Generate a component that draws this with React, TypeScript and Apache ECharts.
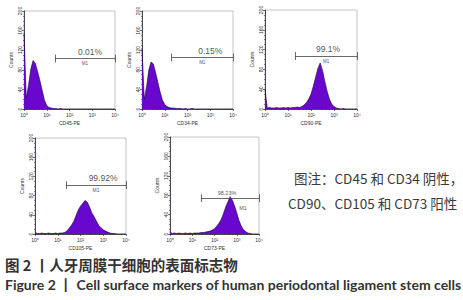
import React, { useEffect, useRef } from "react";
import * as echarts from "echarts";

// Fluorescence channel positions (log-spaced, 0.1 decade apart)
const CHANNELS = [
  1, 1.26, 1.58, 2, 2.51, 3.16, 3.98, 5.01, 6.31, 7.94,
  10, 12.6, 15.8, 20, 25.1, 31.6, 39.8, 50.1, 63.1, 79.4,
  100, 126, 158, 200, 251, 316, 398, 501, 631, 794,
  1000, 1260, 1580, 2000, 2510, 3160, 3980, 5010, 6310, 7940, 10000,
];

// Counts per channel for each marker
const CD45 = [
  155, 22, 48, 82, 99, 93, 76, 58, 38, 18,
  7, 3, 2, 1, 1, 0, 1, 0, 0, 0,
  0, 0, 0, 0, 0, 0, 0, 0, 0, 0,
  0, 0, 0, 0, 0, 0, 0, 0, 0, 0, 0,
];
const CD34 = [
  124, 20, 45, 80, 96, 92, 74, 54, 34, 18,
  9, 5, 3, 2, 2, 1, 1, 1, 0, 1,
  0, 0, 1, 0, 0, 0, 0, 0, 0, 0,
  0, 0, 0, 0, 0, 0, 0, 0, 0, 0, 0,
];
const CD90 = [
  40, 2, 3, 2, 2, 3, 2, 2, 3, 2,
  3, 2, 3, 3, 4, 3, 5, 8, 13, 20,
  30, 46, 64, 82, 93, 78, 56, 36, 20, 10,
  5, 2, 1, 0, 1, 0, 0, 0, 0, 0, 0,
];
const CD105 = [
  3, 1, 1, 2, 1, 1, 2, 1, 1, 2,
  1, 2, 2, 3, 6, 12, 18, 26, 38, 50,
  58, 64, 70, 66, 56, 44, 36, 27, 18, 13,
  9, 6, 4, 2, 1, 1, 0, 0, 0, 0, 0,
];
const CD73 = [
  4, 1, 2, 1, 2, 1, 1, 2, 1, 2,
  1, 2, 2, 2, 3, 3, 4, 5, 6, 8,
  11, 16, 22, 30, 42, 55, 66, 77, 70, 58,
  44, 28, 17, 9, 5, 2, 1, 0, 0, 0, 0,
];

const AXIS_NAMES = ["CD45-PE", "CD34-PE", "CD90-PE", "CD105-PE", "CD73-PE"];
const SERIES_DATA = [CD45, CD34, CD90, CD105, CD73];
const GATE_PERCENTS = ["0.01%", "0.15%", "99.1%", "99.92%", "98.23%"];
const GATE_NAME = "M1";
const GATE_START = [23, 19.5, 20, 23, 25];
const GATE_END = 10000;
const GATE_LEVEL = [103, 105, 107, 102, 74];
const GATE_CAP = 8;
// fluorescence value where each gate's captions sit
const PCT_AT = [800, 1000, 550, 980, 365];
const M1_AT = [480, 445, 450, 480, 1900];

const X_TICK_LABELS = ["10⁰", "10¹", "10²", "10³", "10⁴"];
const Y_NAME = "Counts";

const NOTE_LINES = ["图注：CD45 和 CD34 阴性，", "CD90、CD105 和 CD73 阳性"];
const TITLE_CN = "图 2 丨人牙周膜干细胞的表面标志物";
const TITLE_EN = "Figure 2 丨 Cell surface markers of human periodontal ligament stem cells";

// layout
const GRIDS = [
  { left: 24, top: 11, width: 91, height: 98 },
  { left: 142, top: 11, width: 91, height: 98 },
  { left: 265, top: 10, width: 92, height: 99 },
  { left: 35, top: 138, width: 91, height: 96 },
  { left: 170, top: 137, width: 89, height: 97 },
];
const PCT_FONT = [8.5, 8.5, 8.5, 8.5, 5.5];
const M1_FONT = [4.5, 4.5, 4.5, 5, 5.5];
const M1_GAP = [2, 2, 2, 2, 6];

const FONT = "Liberation Sans, Arial, sans-serif";
const CJK = "Noto Sans CJK SC";
const PURPLE = "#6808cf";

function buildOption(): any {
  const histSeries = SERIES_DATA.map((counts, i) => {
    const g0 = GATE_START[i];
    const lvl = GATE_LEVEL[i];
    return {
      type: "line",
      xAxisIndex: i,
      yAxisIndex: i,
      data: counts.map((c, k) => [CHANNELS[k], c]),
      showSymbol: false,
      symbol: "none",
      lineStyle: { color: "#1a0033", width: 0.6 },
      areaStyle: { color: PURPLE, opacity: 1 },
      markLine: {
        silent: true,
        symbol: "none",
        label: { show: false },
        lineStyle: { color: "#444", width: 0.8, type: "solid" },
        data: [
          [{ coord: [g0, lvl] }, { coord: [GATE_END, lvl] }],
          [{ coord: [g0, lvl - GATE_CAP] }, { coord: [g0, lvl + GATE_CAP] }],
          [{ coord: [GATE_END, lvl - GATE_CAP] }, { coord: [GATE_END, lvl + GATE_CAP] }],
        ],
      },
    };
  });
  const labelSeries = SERIES_DATA.map((_, i) => ({
    type: "scatter",
    xAxisIndex: i,
    yAxisIndex: i,
    silent: true,
    z: 5,
    symbolSize: 1,
    itemStyle: { color: "rgba(0,0,0,0)" },
    data: [
      {
        value: [PCT_AT[i], GATE_LEVEL[i]],
        label: {
          show: true,
          position: "top",
          distance: 2,
          formatter: GATE_PERCENTS[i],
          fontSize: PCT_FONT[i],
          fontFamily: FONT,
          color: "#1e1e1e",
        },
      },
      {
        value: [M1_AT[i], GATE_LEVEL[i]],
        label: {
          show: true,
          position: "bottom",
          distance: M1_GAP[i],
          formatter: GATE_NAME,
          fontSize: M1_FONT[i],
          fontFamily: FONT,
          color: "#1e1e1e",
        },
      },
    ],
  }));
  return {
    animation: false,
    grid: GRIDS.map((g) => ({
      ...g,
      show: true,
      borderColor: "#b5b5b5",
      borderWidth: 0.8,
    })),
    xAxis: AXIS_NAMES.map((name, i) => ({
      type: "log",
      logBase: 10,
      min: 1,
      max: 10000,
      gridIndex: i,
      name,
      nameLocation: "middle",
      nameGap: 11,
      nameTextStyle: { fontSize: 5, fontFamily: FONT, color: "#333" },
      axisLine: { lineStyle: { color: "#222", width: 0.8 } },
      axisTick: { length: 2, lineStyle: { color: "#222", width: 0.6 } },
      minorTick: { show: true, splitNumber: 5, length: 1, lineStyle: { color: "#222", width: 0.5 } },
      axisLabel: {
        fontSize: 5,
        margin: 3,
        color: "#333",
        fontFamily: FONT,
        formatter: (v: number) => X_TICK_LABELS[Math.round(Math.log10(v))] ?? "",
      },
      splitLine: { show: false },
    })),
    yAxis: AXIS_NAMES.map((_, i) => ({
      type: "value",
      min: 0,
      max: 200,
      interval: 40,
      gridIndex: i,
      name: Y_NAME,
      nameLocation: "middle",
      nameGap: 11,
      nameRotate: 90,
      nameTextStyle: { fontSize: 5, fontFamily: FONT, color: "#333" },
      axisLine: { show: true, lineStyle: { color: "#222", width: 0.8 } },
      axisTick: { show: true, length: 2, lineStyle: { color: "#222", width: 0.6 } },
      minorTick: { show: true, splitNumber: 4, length: 1, lineStyle: { color: "#222", width: 0.5 } },
      axisLabel: { rotate: 90, fontSize: 5, margin: 2, color: "#333", fontFamily: FONT },
      splitLine: { show: false },
    })),
    series: [...histSeries, ...labelSeries],
    graphic: [
      {
        type: "text",
        left: 294,
        top: 171,
        style: { text: NOTE_LINES[0], fontSize: 13.5, fill: "#3a3a3a", fontFamily: CJK },
      },
      {
        type: "text",
        left: 288,
        top: 196,
        style: { text: NOTE_LINES[1], fontSize: 13.5, fill: "#3a3a3a", fontFamily: CJK },
      },
      {
        type: "text",
        left: 5,
        top: 257,
        style: { text: TITLE_CN, fontSize: 14.5, fill: "#333", fontFamily: CJK, fontWeight: "bold" },
      },
      {
        type: "text",
        left: 5,
        top: 277,
        style: { text: TITLE_EN, fontSize: 14, fill: "#333", fontFamily: "Lato, " + FONT, fontWeight: "bold" },
      },
    ],
  };
}

export default function App() {
  const ref = useRef<HTMLDivElement>(null);
  useEffect(() => {
    document.body.style.margin = "0";
    const chart = echarts.init(ref.current!, null, { renderer: "svg" });
    chart.setOption(buildOption());
    return () => chart.dispose();
  }, []);
  return <div ref={ref} style={{ width: 463, height: 300 }} />;
}
